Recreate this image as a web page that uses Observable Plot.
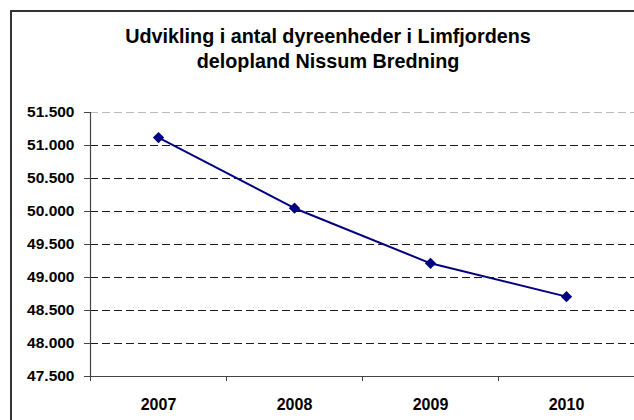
<!DOCTYPE html>
<html>
<head>
<meta charset="utf-8">
<script src="https://cdn.jsdelivr.net/npm/d3@7"></script>
<script src="https://cdn.jsdelivr.net/npm/@observablehq/plot@0.6"></script>
<style>
  html, body { margin: 0; padding: 0; background: #fff; }
  #wrap { position: relative; width: 634px; height: 420px; overflow: hidden; font-family: "Liberation Sans", Arial, sans-serif; }
  #frame { position: absolute; left: 10px; top: 10px; width: 700px; height: 500px; border: 2px solid #333; pointer-events: none; }
  #title { position: relative; height: 90px; }
  .tl { position: absolute; left: 328px; transform: translateX(-50%); white-space: nowrap; font-weight: bold; font-size: 19.8px; line-height: 24.4px; color: #000; }
  #chart svg { display: block; }
</style>
</head>
<body>
<div id="wrap">
  <div id="title">
    <div class="tl" style="top:24.2px;">Udvikling i antal dyreenheder i Limfjordens</div>
    <div class="tl" style="top:48.6px;">delopland Nissum Bredning</div>
  </div>
  <div id="chart"></div>
  <div id="frame"></div>
</div>
<script>
const years = [2007, 2008, 2009, 2010];
const values = [51120, 50050, 49215, 48710];
const yTicks = [47500, 48000, 48500, 49000, 49500, 50000, 50500, 51000, 51500];
const xDomain = [2006.5, 2010.5];
const xBoundaries = [2006.5, 2007.5, 2008.5, 2009.5, 2010.5];

const data = years.map((y, i) => ({year: y, value: values[i]}));
const dk = d3.formatLocale({decimal: ",", thousands: ".", grouping: [3], currency: ["", " kr"]});
const fmt = dk.format(",.0f");

const chart = Plot.plot({
  width: 634,
  height: 330,
  marginLeft: 90,
  marginRight: 0,
  marginTop: 22,
  marginBottom: 44,
  style: {fontFamily: "'Liberation Sans', Arial, sans-serif", fontWeight: "bold", background: "transparent", overflow: "visible"},
  x: {domain: xDomain, axis: null, label: null},
  y: {domain: [yTicks[0], yTicks[yTicks.length - 1]], axis: null, label: null},
  marks: [
    Plot.gridY(yTicks.slice(1, -1), {stroke: "#1a1a1a", strokeOpacity: 1, strokeWidth: 1, strokeDasharray: "8,4"}),
    Plot.gridY(yTicks.slice(-1), {stroke: "#bbb", strokeOpacity: 1, strokeWidth: 1, strokeDasharray: "8,4"}),
    Plot.axisY(yTicks, {tickFormat: fmt, tickSize: 6, tickPadding: 10, fontSize: 15.5, fill: "#000", stroke: "#444", label: null}),
    Plot.axisX(xBoundaries, {text: null, tickSize: 5, stroke: "#444", label: null}),
    Plot.axisX(years, {tickFormat: d => String(d), tickSize: 0, tickPadding: 22, fontSize: 16, fill: "#000", label: null}),
    Plot.ruleX([xDomain[0]], {stroke: "#444", strokeWidth: 1.2}),
    Plot.ruleY([yTicks[0]], {stroke: "#444", strokeWidth: 1.2}),
    Plot.line(data, {x: "year", y: "value", stroke: "#000080", strokeWidth: 2}),
    Plot.dot(data, {x: "year", y: "value", symbol: "diamond2", r: 5.1, fill: "#000080", stroke: "none"})
  ]
});
document.getElementById("chart").appendChild(chart);
</script>
</body>
</html>
